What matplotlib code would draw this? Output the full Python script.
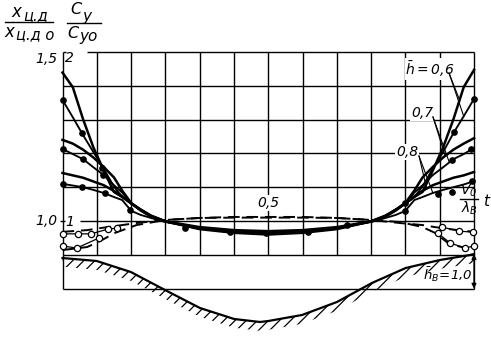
import numpy as np
import matplotlib as mpl
import matplotlib.pyplot as plt

mpl.rcParams.update({
    "font.family": ["DejaVu Sans"],
    "font.style": "italic",
    "mathtext.fontset": "custom",
    "mathtext.rm": "DejaVu Sans:italic",
    "mathtext.it": "DejaVu Sans:italic",
    "hatch.linewidth": 0.9,
})

W, H = 491, 337

# --- data: x = V0 t / lambda_B (0..1), y = x_cd / x_cd0 ---
t = [0, .025, .05, .075, .1, .125, .145, .167, .19, .215, .25, .333, .417, .5,
     .583, .667, .75, .785, .81, .833, .855, .875, .9, .925, .95, .975, 1.0]

# h = 0.6 (line, line with points)
A1 = [1.439, 1.396, 1.301, 1.218, 1.150, 1.086, 1.071, 1.052, 1.033, 1.015, 0.999, 0.976, 0.965, 0.960,
      0.965, 0.976, 0.999, 1.015, 1.033, 1.052, 1.071, 1.086, 1.150, 1.218, 1.301, 1.396, 1.447]
A2 = [1.358, 1.307, 1.254, 1.204, 1.155, 1.102, 1.071, 1.052, 1.033, 1.015, 0.999, 0.978, 0.968, 0.965,
      0.968, 0.980, 0.999, 1.015, 1.033, 1.052, 1.071, 1.102, 1.155, 1.204, 1.260, 1.310, 1.361]
# h = 0.7
B1 = [1.240, 1.229, 1.211, 1.188, 1.160, 1.129, 1.090, 1.053, 1.034, 1.016, 0.999, 0.978, 0.968, 0.965,
      0.968, 0.978, 0.999, 1.016, 1.034, 1.053, 1.090, 1.129, 1.160, 1.188, 1.211, 1.229, 1.245]
B2 = [1.213, 1.198, 1.183, 1.159, 1.136, 1.106, 1.084, 1.052, 1.033, 1.015, 0.999, 0.979, 0.969, 0.966,
      0.969, 0.979, 0.999, 1.015, 1.033, 1.052, 1.084, 1.106, 1.136, 1.159, 1.183, 1.198, 1.216]
# h = 0.8
C1 = [1.142, 1.135, 1.128, 1.117, 1.106, 1.089, 1.073, 1.052, 1.031, 1.013, 0.999, 0.982, 0.973, 0.970,
      0.973, 0.982, 0.999, 1.013, 1.031, 1.052, 1.073, 1.089, 1.106, 1.117, 1.128, 1.135, 1.145]
C2 = [1.110, 1.105, 1.100, 1.092, 1.083, 1.071, 1.062, 1.030, 1.018, 1.009, 0.997, 0.979, 0.968, 0.965,
      0.968, 0.979, 0.997, 1.009, 1.018, 1.030, 1.062, 1.071, 1.083, 1.092, 1.100, 1.108, 1.118]

# measured points
A2_pt_t = [0.0, 0.047, 0.097, 0.298, 0.407, 0.494, 0.596, 0.691, 0.951, 1.0]
A2_pt_v = [1.358, 1.260, 1.157, 0.979, 0.968, 0.965, 0.968, 0.988, 1.262, 1.361]
B2_pt_t = [0.001, 0.050, 0.098, 0.832, 0.947, 0.993]
B2_pt_v = [1.213, 1.183, 1.136, 1.052, 1.180, 1.213]
C2_pt_t = [0.001, 0.047, 0.103, 0.164, 0.832, 0.912, 0.947, 0.995]
C2_pt_v = [1.110, 1.100, 1.082, 1.033, 1.030, 1.080, 1.086, 1.117]

# Cy/Cy0 (dashed)
t_d = [0, .06, .092, .128, .18, .25, .333, .417, .5, .583, .667, .75, .82, .875, .905, .94, 1.0]
D1 = [0.968, 0.973, 0.979, 0.985, 0.994, 1.003, 1.009, 1.012, 1.012, 1.012, 1.009, 1.003, 0.994,
      0.988, 0.982, 0.976, 0.968]
D2 = [0.914, 0.923, 0.941, 0.965, 0.988, 1.003, 1.009, 1.010, 1.010, 1.010, 1.009, 1.003, 0.997,
      0.982, 0.965, 0.932, 0.914]

E1_left_t, E1_left_v = [0.0, 0.038, 0.069, 0.111, 0.132], [0.962, 0.962, 0.962, 0.976, 0.979]
E2_left_t, E2_left_v = [0.0, 0.035, 0.089], [0.926, 0.920, 0.950]
E1_right_t, E1_right_v = [0.922, 0.964, 0.998], [0.982, 0.970, 0.967]
E2_right_t, E2_right_v = [0.912, 0.942, 0.978, 1.0], [0.964, 0.935, 0.920, 0.926]

# bottom profile
G_t = [0, .083, .166, .249, .334, .417, .48, .5, .582, .667, .752, .834, .917, .99, 1.0]
G_v = [0.8905, 0.8817, 0.8491, 0.7959, 0.7426, 0.7101, 0.7012, 0.7041, 0.7219, 0.7604,
       0.8166, 0.8609, 0.8846, 0.8994, 0.9024]


def P(x, y):
    # pixel position -> axes fraction (axes spans the whole figure)
    return x / W, 1 - y / H


fig = plt.figure(figsize=(W / 100, H / 100), dpi=100)
ax = fig.add_axes([0, 0, 1, 1])
ax.set_xlim(-62.5 / 411.5, (W - 62.5) / 411.5)
ax.set_ylim(1.5 - (H - 52) / 338, 1.5 + 52 / 338)
ax.axis("off")

gk = dict(color="black", lw=1.0, zorder=1)
ax.vlines([k / 12 for k in range(1, 12)], 0.9, 1.5, **gk)
ax.hlines([1.1, 1.2, 1.3, 1.4, 0.9, 0.8], 0, 1, **gk)
ax.hlines(1.5, 0.06, 1, **gk)
ax.hlines(1.0, 0.043, 1, **gk)
ax.vlines([0, 1], 0.8, 1.5, **gk)
ax.hlines(1.5, 0, 0.008, **gk)
ax.hlines(1.0, -0.006, 0.007, **gk)

# curves
for y in [A1, B1, C1]:
    ax.plot(t, y, color="black", lw=1.8, zorder=4)
for y, pt, pv in [(A2, A2_pt_t, A2_pt_v), (B2, B2_pt_t, B2_pt_v), (C2, C2_pt_t, C2_pt_v)]:
    ax.plot(t, y, color="black", lw=1.35, zorder=4)
    ax.plot(pt, pv, "o", color="black", ms=3.8, zorder=5)

for y in [D1, D2]:
    ax.plot(t_d, y, color="black", lw=1.4, dashes=(6, 3.5), zorder=4)
for et, ev in [(E1_left_t, E1_left_v), (E2_left_t, E2_left_v),
               (E1_right_t, E1_right_v), (E2_right_t, E2_right_v)]:
    ax.plot(et, ev, "-o", color="black", lw=0.9, ms=4.5, mfc="white", mew=0.9, zorder=5)

# bottom
ax.plot(G_t, G_v, color="black", lw=1.6, zorder=4)
ax.fill_between(G_t, G_v, np.array(G_v) - 0.026, facecolor="none", edgecolor="black",
                hatch="///", linewidth=0, zorder=3)
ax.annotate("", xy=(1, 0.902), xytext=(1, 0.8),
            arrowprops=dict(arrowstyle="<|-|>", color="black", lw=0.9,
                            mutation_scale=7, shrinkA=0, shrinkB=0), zorder=5)
ax.text(*P(448, 275), r"$\bar{h}_B\!=\!1{,}0$", transform=ax.transAxes, fontsize=9.5,
        ha="center", va="center", zorder=3)

# axis labels
ax.text(*P(46, 59), "1,5", transform=ax.transAxes, fontsize=10, ha="center", va="center")
ax.text(*P(69, 58), "2", transform=ax.transAxes, fontsize=10, ha="center", va="center")
ax.text(*P(46, 221), "1,0", transform=ax.transAxes, fontsize=10, ha="center", va="center")
ax.text(*P(70, 222), "1", transform=ax.transAxes, fontsize=10, ha="center", va="center")

ax.text(*P(16, 12), "x", transform=ax.transAxes, fontsize=12, ha="center", va="center")
ax.text(*P(36, 16), "ц.д", transform=ax.transAxes, fontsize=10.5, ha="center", va="center")
ax.plot(*zip(P(5, 22), P(53, 22)), transform=ax.transAxes, color="black", lw=1.0)
ax.text(*P(9, 32), "x", transform=ax.transAxes, fontsize=12, ha="center", va="center")
ax.text(*P(35, 35), "ц.д o", transform=ax.transAxes, fontsize=10.5, ha="center", va="center")

ax.text(*P(76, 10), "C", transform=ax.transAxes, fontsize=11.5, ha="center", va="center")
ax.text(*P(87, 16), "y", transform=ax.transAxes, fontsize=11, ha="center", va="center")
ax.plot(*zip(P(67, 23), P(101, 23)), transform=ax.transAxes, color="black", lw=1.0)
ax.text(*P(73, 33), "C", transform=ax.transAxes, fontsize=11.5, ha="center", va="center")
ax.text(*P(89, 36), "yo", transform=ax.transAxes, fontsize=11, ha="center", va="center")

ax.text(*P(268, 203), "0,5", transform=ax.transAxes, fontsize=10, ha="center", va="center",
        bbox=dict(facecolor="white", edgecolor="none", pad=0.5), zorder=2)

# x label
ax.text(*P(469, 191), r"$V_0$", transform=ax.transAxes, fontsize=10, ha="center", va="center")
ax.plot(*zip(P(460, 199), P(478, 199)), transform=ax.transAxes, color="black", lw=1.0)
ax.text(*P(469, 208), r"$\lambda_B$", transform=ax.transAxes, fontsize=10, ha="center", va="center")
ax.text(*P(486, 201), "t", transform=ax.transAxes, fontsize=11, ha="center", va="center")

# h labels with leaders
bb = dict(facecolor="white", edgecolor="none", pad=0.6)
labels = [(r"$\bar{h}=0{,}6$", (430, 69), (449, 73), [(A1, 0.965), (A2, 0.975)]),
          ("0,7", (422, 113), (433, 117), [(B1, 0.93), (B2, 0.94)]),
          ("0,8", (407, 152), (419, 156), [(C1, 0.885), (C2, 0.9)])]
for txt, pos, anchor, targets in labels:
    ax.text(*P(*pos), txt, transform=ax.transAxes, fontsize=10, ha="center", va="center",
            bbox=bb, zorder=3)
    ax0 = ax.transData.inverted().transform(ax.transAxes.transform(P(*anchor)))
    for curve, tt in targets:
        ax.plot([ax0[0], tt], [ax0[1], np.interp(tt, t, curve)], color="black", lw=0.8, zorder=4)

fig.savefig("out.png", dpi=100)
